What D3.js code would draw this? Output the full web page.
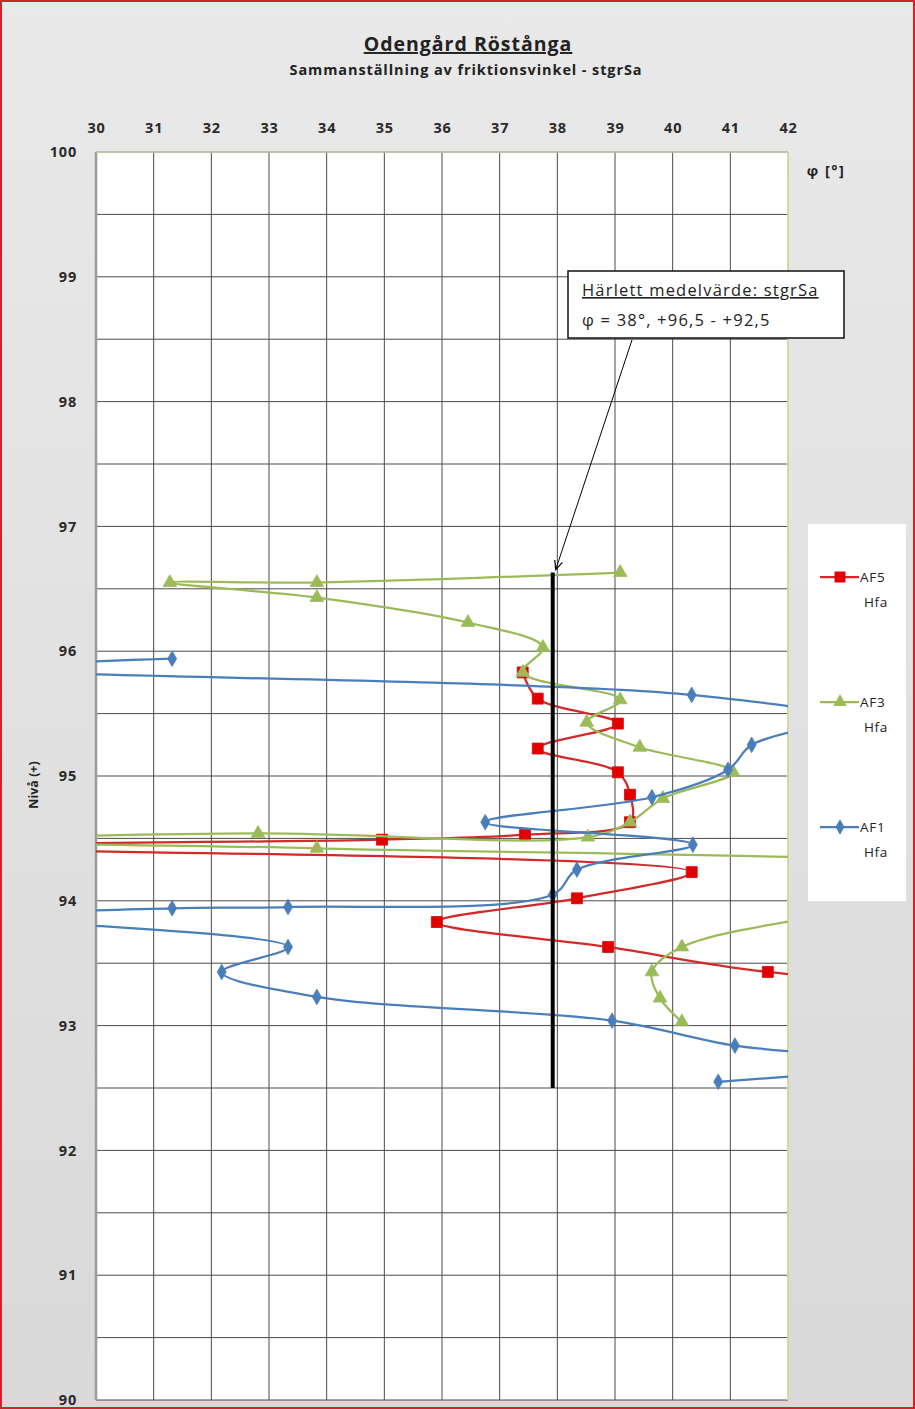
<!DOCTYPE html>
<html>
<head>
<meta charset="utf-8">
<script src="https://cdn.jsdelivr.net/npm/d3@7"></script>
<style>
  html, body { margin: 0; padding: 0; background: #fff; }
  svg { display: block; font-family: "Open Sans", Lato, sans-serif; }
</style>
</head>
<body>
<svg id="chart"></svg>
<script>
const width = 915;
const height = 1409;
const plot = { left: 96, right: 788, top: 152, bottom: 1400 };

const xTicks = d3.range(30, 43);
const yTicks = d3.range(90, 101);

// friction angle (deg) and level (+m) per series, points outside 30-42 run off the plot
const af5Phi   = [37.40, 37.66, 39.05, 37.66, 39.05, 39.26, 39.26, 37.44, 34.96, 27.2, 40.33, 38.34, 35.91, 38.88, 41.65, 48.0];
const af5Level = [95.83, 95.62, 95.42, 95.22, 95.03, 94.85, 94.63, 94.53, 94.49, 94.43, 94.23, 94.02, 93.83, 93.63, 93.43, 93.23];

const af3Phi   = [39.09, 33.83, 31.28, 33.83, 36.45, 37.75, 37.40, 39.09, 38.51, 39.43, 41.05, 39.83, 39.26, 38.53, 32.81, 27.0, 33.83, 46.0, 43.5, 40.16, 39.64, 39.78, 40.16];
const af3Level = [96.63, 96.55, 96.55, 96.43, 96.23, 96.03, 95.83, 95.61, 95.43, 95.23, 95.03, 94.82, 94.63, 94.51, 94.54, 94.48, 94.42, 94.22, 93.96, 93.63, 93.43, 93.22, 93.03];

const af1Phi   = [31.32, 27.9, 40.33, 42.7, 41.37, 40.96, 39.64, 36.75, 40.35, 38.34, 37.92, 33.33, 31.32, 28.35, 33.33, 32.18, 33.83, 38.95, 41.08, 44.0, 40.79];
const af1Level = [95.94, 95.86, 95.65, 95.46, 95.25, 95.05, 94.83, 94.63, 94.45, 94.25, 94.05, 93.95, 93.94, 93.87, 93.63, 93.43, 93.23, 93.04, 92.84, 92.70, 92.55];

// derived mean value line
const meanPhi = 37.92;
const meanLevels = [96.63, 92.5];

const series = [
  { name: "AF5", sub: "Hfa", phi: af5Phi, level: af5Level, line: "#d22a2a", fill: "#e00000", symbol: d3.symbolSquare, size: 120 },
  { name: "AF3", sub: "Hfa", phi: af3Phi, level: af3Level, line: "#9bbb59", fill: "#9bbb59", symbol: d3.symbolTriangle, size: 80 },
  { name: "AF1", sub: "Hfa", phi: af1Phi, level: af1Level, line: "#4a7ebb", fill: "#4a7ebb", symbol: d3.symbolDiamond, size: 70 }
];

const svg = d3.select("#chart")
  .attr("width", width)
  .attr("height", height);

const defs = svg.append("defs");
const bg = defs.append("linearGradient").attr("id", "bg").attr("x1", 0).attr("y1", 0).attr("x2", 0).attr("y2", 1);
bg.append("stop").attr("offset", "0%").attr("stop-color", "#e9e9e9");
bg.append("stop").attr("offset", "100%").attr("stop-color", "#d9d9d9");

defs.append("clipPath").attr("id", "clip")
  .append("rect")
  .attr("x", plot.left)
  .attr("y", plot.top)
  .attr("width", plot.right - plot.left)
  .attr("height", plot.bottom - plot.top);

defs.append("marker")
  .attr("id", "arrow")
  .attr("viewBox", "0 0 10 10")
  .attr("refX", 9).attr("refY", 5)
  .attr("markerWidth", 10).attr("markerHeight", 10)
  .attr("orient", "auto")
  .append("path")
  .attr("d", "M0,1 L9,5 L0,9")
  .attr("fill", "none")
  .attr("stroke", "#000")
  .attr("stroke-width", 1.2);

svg.append("rect")
  .attr("x", 1).attr("y", 1)
  .attr("width", width - 2).attr("height", height - 2)
  .attr("fill", "url(#bg)")
  .attr("stroke", "#d8202a")
  .attr("stroke-width", 2);

const x = d3.scaleLinear().domain([30, 42]).range([plot.left, plot.right]);
const y = d3.scaleLinear().domain([90, 100]).range([plot.bottom, plot.top]);

svg.append("rect")
  .attr("x", plot.left).attr("y", plot.top)
  .attr("width", plot.right - plot.left).attr("height", plot.bottom - plot.top)
  .attr("fill", "#fff");

// grid
svg.append("g")
  .selectAll("line")
  .data(d3.range(90, 100.01, 0.5))
  .join("line")
  .attr("x1", plot.left).attr("x2", plot.right)
  .attr("y1", d => y(d)).attr("y2", d => y(d))
  .attr("stroke", "#4a4a4a").attr("stroke-width", 1);

svg.append("g")
  .selectAll("line")
  .data(xTicks.slice(1, -1))
  .join("line")
  .attr("x1", d => x(d)).attr("x2", d => x(d))
  .attr("y1", plot.top).attr("y2", plot.bottom)
  .attr("stroke", "#4a4a4a").attr("stroke-width", 1);

// plot frame
svg.append("line")
  .attr("x1", plot.left).attr("x2", plot.left)
  .attr("y1", plot.top).attr("y2", plot.bottom)
  .attr("stroke", "#9a9a9a").attr("stroke-width", 2.5);
svg.append("line")
  .attr("x1", plot.right).attr("x2", plot.right)
  .attr("y1", plot.top).attr("y2", plot.bottom)
  .attr("stroke", "#d6d6a0").attr("stroke-width", 2);
svg.append("line")
  .attr("x1", plot.left).attr("x2", plot.right)
  .attr("y1", plot.top).attr("y2", plot.top)
  .attr("stroke", "#cfcfa8").attr("stroke-width", 1.5);

// axes
const xAxis = svg.append("g")
  .attr("transform", `translate(0,${plot.top})`)
  .call(d3.axisTop(x).tickValues(xTicks).tickSize(0).tickPadding(19));
const yAxis = svg.append("g")
  .attr("transform", `translate(${plot.left},0)`)
  .call(d3.axisLeft(y).tickValues(yTicks).tickSize(0).tickPadding(19));
[xAxis, yAxis].forEach(g => {
  g.select(".domain").remove();
  g.selectAll("text")
    .attr("font-family", "'Open Sans', sans-serif")
    .attr("font-size", 14.5)
    .attr("font-weight", "bold")
    .attr("letter-spacing", 0.8)
    .attr("fill", "#2a2a2a");
});

// series
const line = d3.line()
  .x(d => d[0])
  .y(d => d[1])
  .curve(d3.curveCatmullRom.alpha(0.5));

const plotArea = svg.append("g").attr("clip-path", "url(#clip)");

series.forEach(s => {
  const pts = s.phi.map((p, i) => [x(p), y(s.level[i])]);
  plotArea.append("path")
    .attr("d", line(pts))
    .attr("fill", "none")
    .attr("stroke", s.line)
    .attr("stroke-width", 2.25);
  plotArea.append("g")
    .selectAll("path")
    .data(pts)
    .join("path")
    .attr("transform", d => `translate(${d[0]},${d[1]})`)
    .attr("d", d3.symbol(s.symbol, s.size))
    .attr("fill", s.fill)
    .attr("stroke", s.fill)
    .attr("stroke-width", 0.8);
});

// mean value line
svg.append("line")
  .attr("x1", x(meanPhi)).attr("x2", x(meanPhi))
  .attr("y1", y(meanLevels[0])).attr("y2", y(meanLevels[1]))
  .attr("stroke", "#000").attr("stroke-width", 4);

// annotation
svg.append("line")
  .attr("x1", 632).attr("y1", 340)
  .attr("x2", x(meanPhi) + 3).attr("y2", y(meanLevels[0]) - 3)
  .attr("stroke", "#000").attr("stroke-width", 1)
  .attr("marker-end", "url(#arrow)");

svg.append("rect")
  .attr("x", 568).attr("y", 271)
  .attr("width", 276).attr("height", 67)
  .attr("fill", "#fff")
  .attr("stroke", "#111").attr("stroke-width", 1.5);

svg.append("text")
  .attr("x", 582).attr("y", 296)
  .attr("font-size", 16.5)
  .attr("letter-spacing", 1.2)
  .attr("fill", "#222")
  .style("text-decoration", "underline")
  .text("Härlett medelvärde: stgrSa");

svg.append("text")
  .attr("x", 582).attr("y", 326)
  .attr("font-size", 16.5)
  .attr("letter-spacing", 1.2)
  .attr("fill", "#222")
  .text("φ = 38°, +96,5 - +92,5");

// titles
svg.append("text")
  .attr("x", 468).attr("y", 51)
  .attr("text-anchor", "middle")
  .attr("font-size", 19.5)
  .attr("font-weight", "bold")
  .attr("letter-spacing", 1)
  .attr("fill", "#222")
  .style("text-decoration", "underline")
  .text("Odengård Röstånga");

svg.append("text")
  .attr("x", 466).attr("y", 75)
  .attr("text-anchor", "middle")
  .attr("font-size", 14.5)
  .attr("font-weight", "bold")
  .attr("letter-spacing", 0.9)
  .attr("fill", "#222")
  .text("Sammanställning av friktionsvinkel - stgrSa");

svg.append("text")
  .attr("x", 826).attr("y", 176)
  .attr("text-anchor", "middle")
  .attr("font-size", 14.5)
  .attr("font-weight", "bold")
  .attr("letter-spacing", 1.5)
  .attr("fill", "#222")
  .text("φ [°]");

svg.append("text")
  .attr("transform", "translate(38,785) rotate(-90)")
  .attr("text-anchor", "middle")
  .attr("font-size", 12.5)
  .attr("font-weight", "bold")
  .attr("fill", "#222")
  .text("Nivå (+)");

// legend
const legend = svg.append("g");
legend.append("rect")
  .attr("x", 808).attr("y", 524)
  .attr("width", 98).attr("height", 377)
  .attr("fill", "#fff");

const legendY = [577, 702, 827];
series.forEach((s, i) => {
  const g = legend.append("g").attr("transform", `translate(0,${legendY[i]})`);
  g.append("line")
    .attr("x1", 820).attr("x2", 859)
    .attr("stroke", s.line).attr("stroke-width", 2.25);
  g.append("path")
    .attr("transform", "translate(840,0)")
    .attr("d", d3.symbol(s.symbol, s.size))
    .attr("fill", s.fill);
  g.append("text")
    .attr("x", 860).attr("y", 5)
    .attr("font-size", 13.5)
    .attr("letter-spacing", 0.8)
    .attr("fill", "#222")
    .text(s.name);
  g.append("text")
    .attr("x", 864).attr("y", 30)
    .attr("font-size", 13.5)
    .attr("letter-spacing", 0.6)
    .attr("fill", "#222")
    .text(s.sub);
});
</script>
</body>
</html>
